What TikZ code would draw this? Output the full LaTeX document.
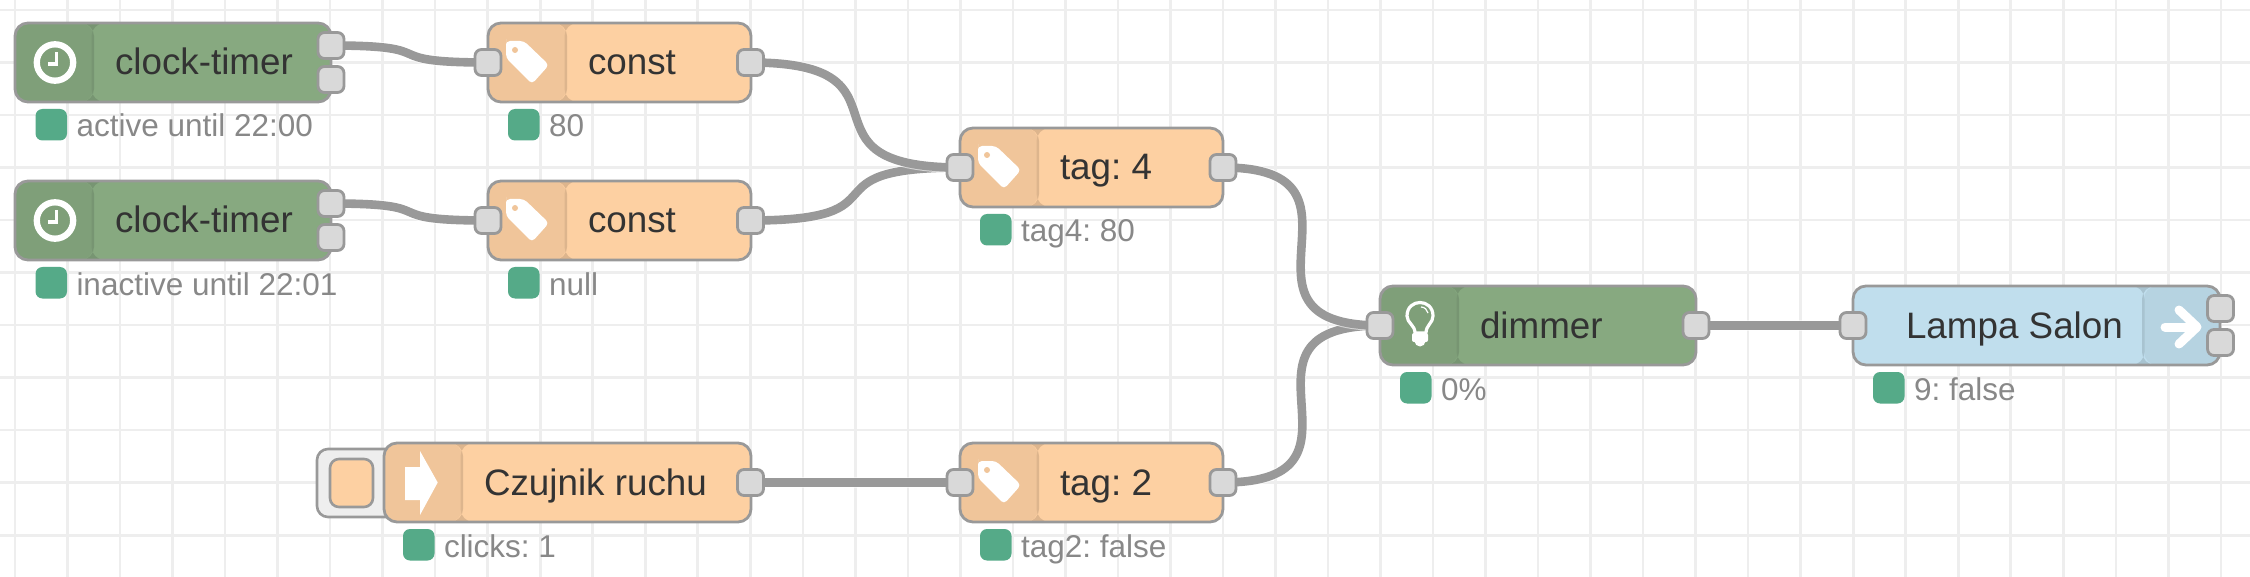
\documentclass[tikz,border=0pt]{standalone}
\usepackage{fontspec}
\setmainfont{Liberation Sans}
\pgfdeclarelayer{back}
\pgfsetlayers{back,main}
\definecolor{gridc}{HTML}{EEEEEE}
\definecolor{edgec}{HTML}{999999}
\definecolor{wirec}{HTML}{999999}
\definecolor{portc}{HTML}{D9D9D9}
\definecolor{greenc}{HTML}{87A980}
\definecolor{greeni}{HTML}{7F9F79}
\definecolor{greens}{HTML}{779572}
\definecolor{orangec}{HTML}{FDD0A2}
\definecolor{orangei}{HTML}{F0C59A}
\definecolor{oranges}{HTML}{DDB58D}
\definecolor{bluec}{HTML}{C0DEED}
\definecolor{bluei}{HTML}{B6D3E1}
\definecolor{blues}{HTML}{A8C3D0}
\definecolor{statusc}{HTML}{55AA88}
\definecolor{labelc}{HTML}{333333}
\definecolor{stattxt}{HTML}{888888}
\tikzset{
  nrbody/.style={draw=edgec,line width=2.8pt,rounded corners=13pt,minimum height=79pt,inner sep=0pt,outer sep=0pt},
  nrport/.style={draw=edgec,fill=portc,line width=2.8pt,rounded corners=6.5pt,minimum width=26pt,minimum height=26pt,inner sep=0pt,outer sep=0pt},
  nrlabel/.style={anchor=base west,inner sep=0pt,outer sep=0pt,text=labelc,font=\fontsize{36.8}{40}\selectfont\frenchspacing},
  statdot/.style={fill=statusc,rounded corners=7pt,minimum width=31.5pt,minimum height=31.5pt,inner sep=0pt,outer sep=0pt},
  stattext/.style={anchor=base west,inner sep=0pt,outer sep=0pt,text=stattxt,font=\fontsize{31.5}{36}\selectfont\frenchspacing},
  wire/.style={draw=wirec,line width=8.6pt,line cap=butt,preaction={draw=white,line width=10.6pt,opacity=.6}},
  gridline/.style={draw=gridc,line width=2.6pt}
}
% name, left x, top y, width, label, body, panel, separator
\newcommand{\nrleft}[8]{%
  \node[nrbody,fill=#6,minimum width=#4pt,path picture={%
    \fill[#7] (path picture bounding box.north west) rectangle ++(78,79);
    \fill[#8] ([xshift=76.5pt]path picture bounding box.north west) rectangle ++(2.5,79);}]
    (#1) at (#2+#4/2,#3+39.5) {};
  \node[nrlabel] (#1l) at (#2+100,#3+52) {#5};
}
% name, centre x, centre y
\newcommand{\nrp}[3]{\node[nrport] (#1) at (#2,#3) {};}
% name, dot left x, top y, text
\newcommand{\nrstat}[4]{%
  \node[statdot] (#1d) at (#2+15.75,#3+15.75) {};
  \node[stattext] (#1t) at (#2+41,#3+28) {#4};
}
\newcommand{\clockicon}[2]{%
  \draw[white,line width=6.3pt] (#1,#2) circle (18.2pt);
  \fill[white] (#1,#2-10.8) rectangle (#1+3.3,#2+3.2);
  \fill[white] (#1-7.3,#2-0.2) rectangle (#1+3.3,#2+3.2);
}
\newcommand{\tagicon}[3]{%
  \fill[white,rounded corners=4pt] (#1+18,#2+20) -- (#1+18,#2+18) -- (#1+36,#2+18) -- (#1+61,#2+42) -- (#1+44,#2+61) -- (#1+18,#2+35) -- cycle;
  \fill[#3] (#1+27,#2+27) circle (3pt);
}
\begin{document}
\begin{tikzpicture}[x=1pt,y=-1pt]
\useasboundingbox (0,0) rectangle (2250,577);
\begin{pgfonlayer}{back}
  \fill[white] (0,0) rectangle (2250,577);
  \foreach \k in {0,...,42} \draw[gridline] (15+52.52*\k,0) -- (15+52.52*\k,577);
  \foreach \k in {0,...,10} \draw[gridline] (0,10+52.52*\k) -- (2250,10+52.52*\k);
\end{pgfonlayer}

% button behind the inject node
\node[draw=edgec,fill=gridc,line width=2.6pt,rounded corners=11pt,minimum width=90pt,minimum height=68pt,inner sep=0pt] (btn) at (362,483) {};
\node[draw=edgec,fill=orangec,line width=2.6pt,rounded corners=9pt,minimum width=43pt,minimum height=48pt,inner sep=0pt] (btnin) at (351.5,483) {};

% nodes
\nrleft{clockA}{15}{23}{316}{clock-timer}{greenc}{greeni}{greens}
\nrleft{constA}{488}{23}{263}{const}{orangec}{orangei}{oranges}
\nrleft{clockB}{15}{181}{316}{clock-timer}{greenc}{greeni}{greens}
\nrleft{constB}{488}{181}{263}{const}{orangec}{orangei}{oranges}
\nrleft{tagf}{960}{128}{263}{tag: 4}{orangec}{orangei}{oranges}
\nrleft{dim}{1380}{286}{316}{dimmer}{greenc}{greeni}{greens}
\nrleft{czuj}{384}{443}{367}{Czujnik ruchu}{orangec}{orangei}{oranges}
\nrleft{tagt}{960}{443}{263}{tag: 2}{orangec}{orangei}{oranges}

% output node, icon panel on the right
\node[nrbody,fill=bluec,minimum width=367pt,path picture={%
  \fill[bluei] ([xshift=-76pt]path picture bounding box.north east) rectangle ++(76,79);
  \fill[blues] ([xshift=-78pt]path picture bounding box.north east) rectangle ++(2.5,79);}]
  (lamp) at (2036.5,325.5) {};
\node[nrlabel] (lampl) at (1906,338) {Lampa Salon};

% icons
\clockicon{55}{62.5}
\clockicon{55}{220.5}
\tagicon{488}{23}{orangei}
\tagicon{488}{181}{orangei}
\tagicon{960}{128}{orangei}
\tagicon{960}{443}{orangei}
\fill[white] (405,467) -- (420,467) -- (420,451) -- (437.7,482.5) -- (420,515) -- (420,500) -- (405,500) -- cycle;
% bulb
\draw[white,line width=3.2pt,line join=round] (1415,333) .. controls (1415,325) and (1407,323) .. (1407,316) .. controls (1407,298) and (1433,298) .. (1433,316) .. controls (1433,323) and (1426,325) .. (1426,333) -- cycle;
\draw[white,line width=1.2pt] (1421,307) .. controls (1425,307) and (1427,310) .. (1428,313);
\fill[white,rounded corners=2pt] (1412,333) rectangle (1428,342);
\fill[white] (1420,341) circle (5.5pt);
% lamp arrow
\draw[white,line width=9pt,line cap=round] (2165,327) -- (2195,327);
\draw[white,line width=9pt,line cap=round,line join=round] (2179,310) -- (2197,327) -- (2179,344);

% ports
\nrp{clockAa}{331}{45.5}
\nrp{clockAb}{331}{79.5}
\nrp{clockBa}{331}{203.5}
\nrp{clockBb}{331}{237.5}
\nrp{constAi}{488}{62.5}
\nrp{constAo}{750.5}{62.5}
\nrp{constBi}{488}{220.5}
\nrp{constBo}{750.5}{220.5}
\nrp{tagfi}{960}{167.5}
\nrp{tagfo}{1223}{167.5}
\nrp{czujo}{750.5}{482.5}
\nrp{tagti}{960}{482.5}
\nrp{tagto}{1223}{482.5}
\nrp{dimi}{1380}{325.5}
\nrp{dimo}{1696}{325.5}
\nrp{lampi}{1853}{325.5}
\nrp{lampa}{2220.5}{308.5}
\nrp{lampb}{2220.5}{342.5}

% status
\nrstat{sA}{35.5}{109}{active until 22:00}
\nrstat{sB}{508}{109}{80}
\nrstat{sC}{35.5}{267}{inactive until 22:01}
\nrstat{sD}{508}{267}{null}
\nrstat{sE}{980}{214}{tag4: 80}
\nrstat{sF}{1400}{372}{0\%}
\nrstat{sG}{403}{529}{clicks: 1}
\nrstat{sH}{980}{529}{tag2: false}
\nrstat{sI}{1873}{372}{9: false}

% wires
\begin{pgfonlayer}{back}
  \draw[wire] (clockAa.center) .. controls +(118,0) and +(-118,0) .. (constAi.center);
  \draw[wire] (clockBa.center) .. controls +(118,0) and +(-118,0) .. (constBi.center);
  \draw[wire] (constBo.center) .. controls +(162,0) and +(-162,0) .. (tagfi.center);
  \draw[wire] (constAo.center) .. controls +(175,0) and +(-175,0) .. (tagfi.center);
  \draw[wire] (tagto.center) .. controls +(167,0) and +(-167,0) .. (dimi.center);
  \draw[wire] (tagfo.center) .. controls +(167,0) and +(-167,0) .. (dimi.center);
  \draw[wire] (czujo.center) -- (tagti.center);
  \draw[wire] (dimo.center) -- (lampi.center);
\end{pgfonlayer}
\end{tikzpicture}
\end{document}
